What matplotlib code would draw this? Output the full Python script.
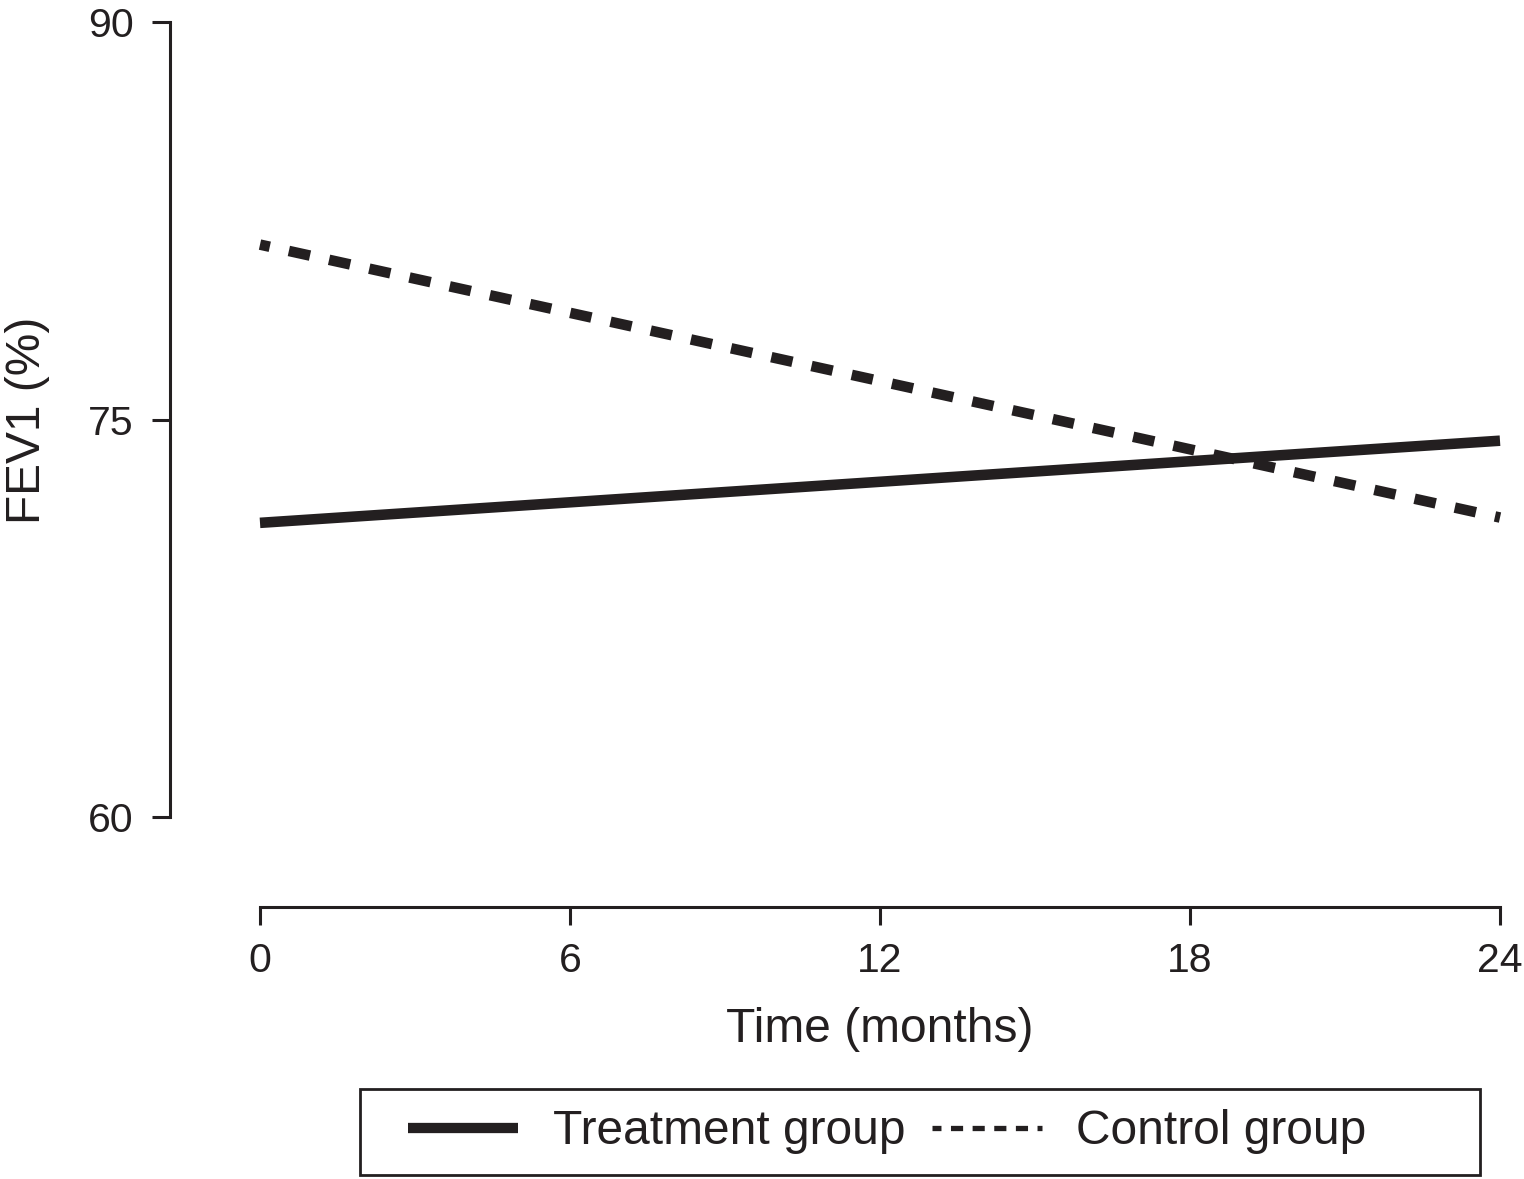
import matplotlib
matplotlib.use('agg')
from matplotlib import pyplot as plt
from matplotlib.lines import Line2D
from matplotlib.patches import Rectangle

plt.rcParams['font.family'] = ['Liberation Sans', 'DejaVu Sans']

# values
months = [0, 24]
treatment = [71.1, 74.2]
control = [81.6, 71.3]
x_ticks = [0, 6, 12, 18, 24]
y_ticks = [60, 75, 90]

W, H = 1524, 1179
fig = plt.figure(figsize=(W / 100, H / 100), dpi=100)

# axes box placed in pixel terms: y-axis at x=170, x-axis at y=907
left, right, top, bottom = 170, 1500, 22, 907
ax = fig.add_axes([left / W, 1 - bottom / H, (right - left) / W, (bottom - top) / H])

ax.plot(months, treatment, color='#231f20', lw=7.6, solid_capstyle='butt', clip_on=False)
ax.plot(months, control, color='#231f20', lw=7.6, linestyle=(1.1, (2.05, 1.85)),
        dash_capstyle='butt', clip_on=False)

ax.set_xlim(-90 / 51.67, 24)
ax.set_ylim(60 - 90 / 26.5, 90)

for s in ['top', 'right']:
    ax.spines[s].set_visible(False)
ax.spines['left'].set_bounds(60, 90)
ax.spines['bottom'].set_bounds(0, 24)
for s in ['left', 'bottom']:
    ax.spines[s].set_linewidth(2.2)
    ax.spines[s].set_color('#231f20')

ax.set_xticks(x_ticks)
ax.set_yticks(y_ticks)
ax.tick_params(axis='both', length=13, width=2.2, color='#231f20',
               labelsize=29.5, labelcolor='#231f20')
ax.tick_params(axis='y', pad=13)
ax.tick_params(axis='x', pad=12)

ax.set_xlabel('Time (months)', fontsize=34.5, color='#231f20')
ax.xaxis.set_label_coords((880 - left) / (right - left), -(1030 - bottom) / (bottom - top))
ax.xaxis.label.set_va('center')
ax.set_ylabel('FEV1 (%)', fontsize=34.5, color='#231f20')
ax.yaxis.set_label_coords(-(left - 28) / (right - left), (bottom - 420) / (bottom - top))
ax.yaxis.label.set_va('center')

# legend: frame drawn separately so it can be wider than its contents
fig.patches.append(Rectangle((360 / W, 1 - 1175 / H), (1480 - 360) / W, (1175 - 1089) / H,
                             transform=fig.transFigure, fill=False, lw=2.0,
                             edgecolor='#231f20'))
handles = [
    Line2D([], [], color='#231f20', lw=7.4, solid_capstyle='butt'),
    Line2D([], [], color='#231f20', lw=3.8, linestyle=(0.6, (2.3, 1.8)), dash_capstyle='butt'),
]
fig.legend(handles, ['Treatment group', 'Control group'], ncol=2, frameon=False,
           loc='center left', bbox_to_anchor=(408 / W, 1 - 1132 / H),
           borderpad=0, borderaxespad=0, fontsize=34.5, handlelength=2.3,
           handletextpad=0.72, columnspacing=0.55, labelcolor='#231f20')

fig.savefig('out.png', dpi=100, facecolor='white')
